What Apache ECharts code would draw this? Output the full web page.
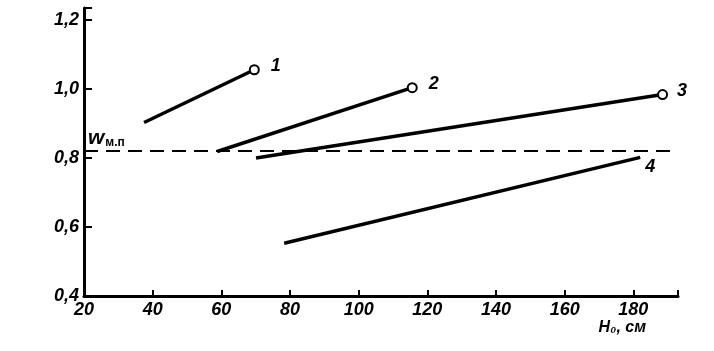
<!DOCTYPE html>
<html>
<head>
<meta charset="utf-8">
<script src="https://cdn.jsdelivr.net/npm/echarts@6/dist/echarts.min.js"></script>
<style>
  html, body { margin: 0; padding: 0; background: #fff; }
  #chart { width: 714px; height: 351px; }
</style>
</head>
<body>
<div id="chart"></div>
<script>
// curves 1-4: [H0 (cm), w]
const curveNames = ['1', '2', '3', '4'];
const curve1 = [[37.5, 0.903], [69.6, 1.056]];
const curve2 = [[58.8, 0.819], [115.6, 1.004]];
const curve3 = [[70.1, 0.80], [188.5, 0.984]];
const curve4 = [[78.3, 0.553], [182, 0.802]];
const endCircle = [true, true, true, false];
const wmp = 0.82; // w_м.п level
const xTicks = [20, 40, 60, 80, 100, 120, 140, 160, 180];
const yTicks = [0.4, 0.6, 0.8, 1.0, 1.2];

const font = { fontFamily: 'Liberation Sans', fontStyle: 'italic', fontWeight: 'bold', color: '#000' };
const labelOffsets = [[6, -4], [6, -4], [4, -4], [0, 10]];

var myChart = echarts.init(document.getElementById('chart'));

const curves = [curve1, curve2, curve3, curve4];
const series = curves.map((pts, i) => ({
  type: 'line',
  name: curveNames[i],
  symbol: 'circle',
  symbolSize: 0,
  showSymbol: true,
  lineStyle: { color: '#000', width: 3.5 },
  itemStyle: { color: '#000' },
  silent: true,
  animation: false,
  data: pts.map((p, j) => {
    const last = j === pts.length - 1;
    const item = { value: p };
    if (last) {
      if (endCircle[i]) {
        item.symbolSize = 9;
        item.itemStyle = { color: '#fff', borderColor: '#000', borderWidth: 2 };
      }
      item.label = {
        show: true,
        position: 'right',
        offset: labelOffsets[i],
        formatter: curveNames[i],
        fontSize: 18,
        ...font
      };
    }
    return item;
  })
}));

series[0].markLine = {
  silent: true,
  symbol: 'none',
  animation: false,
  lineStyle: { color: '#000', type: [14, 8], width: 2 },
  label: {
    show: true,
    position: 'insideStartTop',
    distance: [4, 2],
    formatter: '{w|w}{s|м.п}',
    rich: {
      w: { fontSize: 21, ...font },
      s: { fontSize: 12, ...font, fontStyle: 'normal', verticalAlign: 'bottom', padding: [8, 0, 0, 1] }
    }
  },
  data: [{ yAxis: wmp }]
};

function isTick(v, list) {
  return list.some(t => Math.abs(t - v) < 1e-6);
}

myChart.setOption({
  backgroundColor: '#fff',
  animation: false,
  grid: { left: 84, right: 36, top: 8, bottom: 55 },
  xAxis: {
    type: 'value',
    min: 20,
    max: 193,
    interval: 20,
    name: 'H₀, см',
    nameLocation: 'end',
    nameGap: 0,
    nameTextStyle: { fontSize: 16, ...font, align: 'right', verticalAlign: 'top', padding: [24, 32, 0, 0] },
    axisLine: { lineStyle: { color: '#000', width: 3 } },
    axisTick: { inside: true, length: 6, lineStyle: { color: '#000', width: 2 } },
    axisLabel: {
      fontSize: 18, ...font, margin: 5,
      formatter: v => isTick(v, xTicks) ? String(v) : ''
    },
    splitLine: { show: false }
  },
  yAxis: {
    type: 'value',
    min: 0.4,
    max: 1.235,
    interval: 0.2,
    axisLine: { lineStyle: { color: '#000', width: 3 } },
    axisTick: { inside: true, length: 8, lineStyle: { color: '#000', width: 2 } },
    axisLabel: {
      fontSize: 18, ...font, margin: 5,
      formatter: v => isTick(v, yTicks) ? v.toFixed(1).replace('.', ',') : ''
    },
    splitLine: { show: false }
  },
  series: series
});
</script>
</body>
</html>
